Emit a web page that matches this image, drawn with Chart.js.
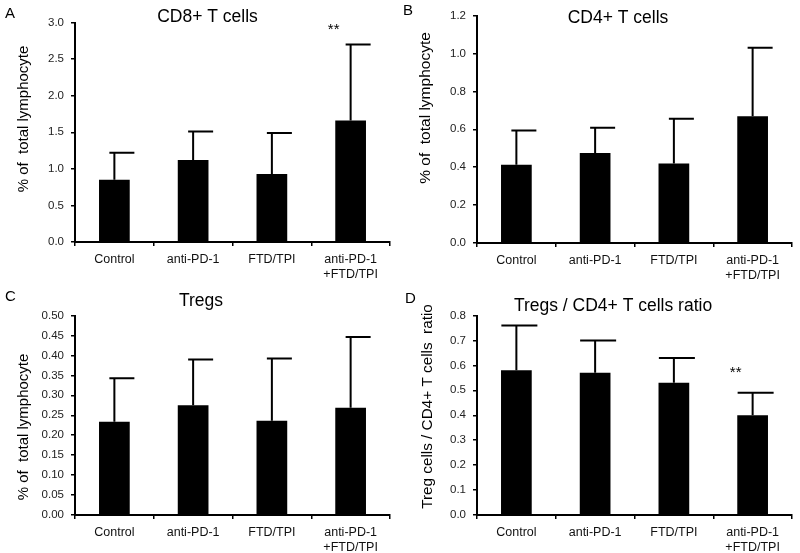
<!DOCTYPE html>
<html>
<head>
<meta charset="utf-8">
<script src="https://cdn.jsdelivr.net/npm/chart.js@4/dist/chart.umd.min.js"></script>
<style>
  body { margin: 0; background: #fff; }
  .panel { position: absolute; }
</style>
</head>
<body>
<div class="panel" style="left:0;top:0"><canvas id="chartA" width="400" height="290"></canvas></div>
<div class="panel" style="left:400px;top:0"><canvas id="chartB" width="400" height="290"></canvas></div>
<div class="panel" style="left:0;top:276px"><canvas id="chartC" width="400" height="277"></canvas></div>
<div class="panel" style="left:400px;top:276px"><canvas id="chartD" width="400" height="277"></canvas></div>
<script>
// groups on the x axis
const groups = ['Control', 'anti-PD-1', 'FTD/TPI', ['anti-PD-1', '+FTD/TPI']];

// mean values and upper error (SD)
const cd8Mean = [0.85, 1.12, 0.93, 1.66];
const cd8Sd = [0.37, 0.39, 0.56, 1.04];
const cd8Sig = [null, null, null, '**'];

const cd4Mean = [0.413, 0.475, 0.42, 0.668];
const cd4Sd = [0.18, 0.133, 0.236, 0.362];

const tregMean = [0.234, 0.275, 0.236, 0.269];
const tregSd = [0.109, 0.115, 0.156, 0.177];

const ratioMean = [0.58, 0.57, 0.53, 0.40];
const ratioSd = [0.18, 0.13, 0.10, 0.09];
const ratioSig = [null, null, null, '**'];

const FONT = "'Liberation Sans', Arial, sans-serif";

// one-sided error bars + significance stars
const errorBars = {
  id: 'errorBars',
  afterDatasetsDraw(chart, args, opts) {
    const ctx = chart.ctx;
    const meta = chart.getDatasetMeta(0);
    const y = chart.scales.y;
    ctx.save();
    ctx.strokeStyle = '#000';
    ctx.lineWidth = 2;
    meta.data.forEach((bar, i) => {
      const top = y.getPixelForValue(opts.mean[i] + opts.sd[i]);
      ctx.beginPath();
      ctx.moveTo(bar.x, bar.y);
      ctx.lineTo(bar.x, top);
      ctx.moveTo(bar.x - opts.capLeft, top);
      ctx.lineTo(bar.x + opts.capRight, top);
      ctx.stroke();
      if (opts.sig && opts.sig[i]) {
        ctx.fillStyle = '#000';
        ctx.font = '15px ' + FONT;
        ctx.textAlign = 'center';
        ctx.textBaseline = 'middle';
        ctx.fillText(opts.sig[i], bar.x + opts.sigDx, y.getPixelForValue(opts.sigAt) + 2);
      }
    });
    ctx.restore();
  }
};

// panel letter, title and y axis title
const panelText = {
  id: 'panelText',
  afterDraw(chart, args, o) {
    const ctx = chart.ctx;
    ctx.save();
    ctx.fillStyle = '#000';
    ctx.textBaseline = 'alphabetic';
    ctx.textAlign = 'left';
    ctx.font = '15px ' + FONT;
    ctx.fillText(o.letter, o.letterX, o.letterY);
    ctx.textAlign = 'center';
    ctx.font = '17.5px ' + FONT;
    ctx.fillText(o.title, o.titleX, o.titleY);
    ctx.translate(o.yTitleX, o.yTitleY);
    ctx.rotate(-Math.PI / 2);
    ctx.textBaseline = 'middle';
    ctx.font = o.yTitleSize + 'px ' + FONT;
    ctx.fillText(o.yTitle, 0, 0);
    ctx.restore();
  }
};

function makePanel(id, p) {
  const canvas = document.getElementById(id);
  return new Chart(canvas, {
    type: 'bar',
    data: {
      labels: groups,
      datasets: [{
        data: p.mean,
        backgroundColor: '#000',
        borderWidth: 0,
        barPercentage: 0.39,
        categoryPercentage: 1.0
      }]
    },
    options: {
      responsive: false,
      animation: false,
      events: [],
      layout: { padding: { left: 0, right: canvas.width - p.right, top: p.top, bottom: 0 } },
      scales: {
        x: {
          afterFit: s => { s.height = canvas.height - p.bottom; },
          grid: { display: true, drawOnChartArea: false, offset: true, tickLength: 4, color: '#000', lineWidth: 1.5 },
          border: { color: '#000', width: 2 },
          ticks: { color: '#111', font: { family: FONT, size: 12.5, lineHeight: 1.2 }, padding: 6, maxRotation: 0, autoSkip: false }
        },
        y: {
          min: 0,
          max: p.max,
          afterFit: s => { s.width = p.left; },
          afterBuildTicks: s => {
            s.ticks = p.ticks.map(v => ({ value: v }));
          },
          grid: { display: true, drawOnChartArea: false, tickLength: 4, color: '#000', lineWidth: 1.5 },
          border: { color: '#000', width: 2 },
          ticks: {
            color: '#222',
            font: { family: FONT, size: 11.5 },
            padding: 7,
            callback: v => v.toFixed(p.decimals)
          }
        }
      },
      plugins: {
        legend: { display: false },
        tooltip: { enabled: false },
        errorBars: { mean: p.mean, sd: p.sd, sig: p.sig, sigAt: p.sigAt, sigDx: -17, capLeft: p.capLeft, capRight: p.capRight },
        panelText: p.text
      }
    },
    plugins: [errorBars, panelText]
  });
}

const ticksA = [0, 0.5, 1.0, 1.5, 2.0, 2.5, 3.0];
const ticksB = [0, 0.2, 0.4, 0.6, 0.8, 1.0, 1.2];
const ticksC = [0, 0.05, 0.10, 0.15, 0.20, 0.25, 0.30, 0.35, 0.40, 0.45, 0.50];
const ticksD = [0, 0.1, 0.2, 0.3, 0.4, 0.5, 0.6, 0.7, 0.8];

makePanel('chartA', {
  mean: cd8Mean, sd: cd8Sd, sig: cd8Sig, sigAt: 2.93,
  max: 3.0, ticks: ticksA, decimals: 1,
  left: 75, right: 390, top: 22.5, bottom: 242, capLeft: 5, capRight: 20,
  text: { letter: 'A', letterX: 5, letterY: 18, title: 'CD8+ T cells', titleX: 207.5, titleY: 22,
          yTitle: '% of  total lymphocyte', yTitleX: 24, yTitleY: 119, yTitleSize: 15 }
});

makePanel('chartB', {
  mean: cd4Mean, sd: cd4Sd,
  max: 1.2, ticks: ticksB, decimals: 1,
  left: 77, right: 392, top: 15.5, bottom: 243, capLeft: 5, capRight: 20,
  text: { letter: 'B', letterX: 3, letterY: 15, title: 'CD4+ T cells', titleX: 218, titleY: 22.5,
          yTitle: '% of  total lymphocyte', yTitleX: 25.5, yTitleY: 108, yTitleSize: 15.5 }
});

makePanel('chartC', {
  mean: tregMean, sd: tregSd,
  max: 0.5, ticks: ticksC, decimals: 2,
  left: 75, right: 390, top: 39.5, bottom: 239, capLeft: 5, capRight: 20,
  text: { letter: 'C', letterX: 5, letterY: 25, title: 'Tregs', titleX: 201, titleY: 29.5,
          yTitle: '% of  total lymphocyte', yTitleX: 23.5, yTitleY: 151, yTitleSize: 15 }
});

makePanel('chartD', {
  mean: ratioMean, sd: ratioSd, sig: ratioSig, sigAt: 0.58,
  max: 0.8, ticks: ticksD, decimals: 1,
  left: 77, right: 392, top: 39.5, bottom: 239, capLeft: 15, capRight: 21,
  text: { letter: 'D', letterX: 5, letterY: 27, title: 'Tregs / CD4+ T cells ratio', titleX: 213, titleY: 35,
          yTitle: 'Treg cells / CD4+ T cells  ratio', yTitleX: 27.5, yTitleY: 130.5, yTitleSize: 15.3 }
});
</script>
</body>
</html>
